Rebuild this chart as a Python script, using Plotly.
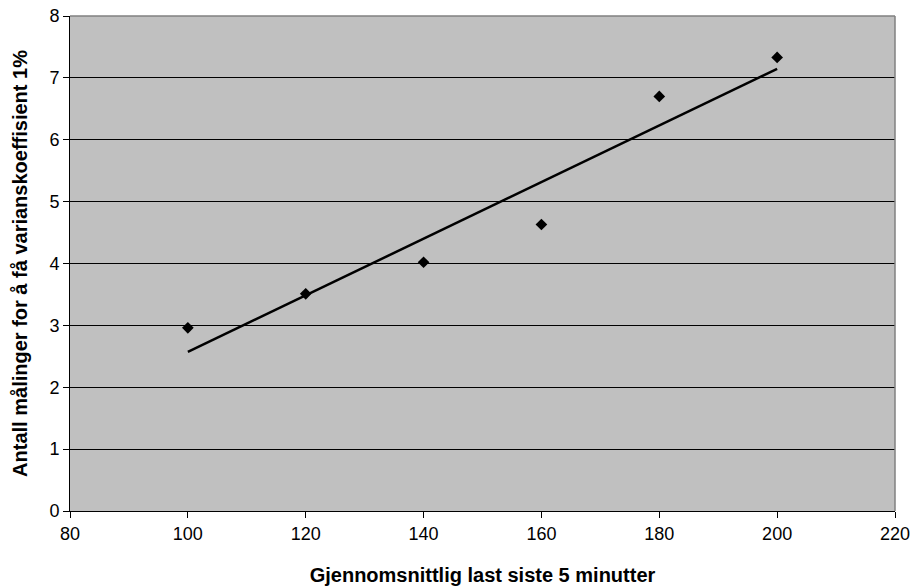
import numpy as np
import plotly.graph_objects as go

last = [100, 120, 140, 160, 180, 200]
antall = [2.96, 3.51, 4.02, 4.63, 6.70, 7.33]
x_ticks = [80, 100, 120, 140, 160, 180, 200, 220]
y_ticks = [0, 1, 2, 3, 4, 5, 6, 7, 8]

slope, intercept = np.polyfit(last, antall, 1)
trend_x = [min(last), max(last)]
trend_y = [slope * v + intercept for v in trend_x]

fig = go.Figure()
fig.add_trace(go.Scatter(x=trend_x, y=trend_y, mode="lines",
                         line=dict(color="black", width=2.5), showlegend=False, hoverinfo="skip"))
fig.add_trace(go.Scatter(x=last, y=antall, mode="markers",
                         marker=dict(symbol="diamond", size=9, color="black"), showlegend=False))

font = "Liberation Sans, Arial, sans-serif"
fig.update_layout(
    width=912, height=586,
    margin=dict(l=70, r=17, t=16, b=75),
    paper_bgcolor="white", plot_bgcolor="#C0C0C0",
    font=dict(family=font, size=18, color="black"),
    xaxis=dict(range=[80, 220], tickvals=x_ticks, showgrid=False, zeroline=False,
               ticks="outside", ticklen=6, tickcolor="black", showline=True, linecolor="black",
               automargin=False, tickfont=dict(size=18),
               title=dict(text="<b>Gjennomsnittlig last siste 5 minutter</b>",
                          font=dict(size=20), standoff=25)),
    yaxis=dict(range=[0, 8], tickvals=y_ticks, showgrid=True, gridcolor="black", gridwidth=1,
               zeroline=False, ticks="outside", ticklen=6, tickcolor="black", showline=True,
               linecolor="black", automargin=False, tickfont=dict(size=18),
               title=dict(text="<b>Antall målinger for å få varianskoeffisient 1%</b>",
                          font=dict(size=20), standoff=16)),
    shapes=[
        dict(type="line", xref="paper", yref="paper", x0=0, x1=1, y0=1, y1=1,
             line=dict(color="#808080", width=1.5)),
        dict(type="line", xref="paper", yref="paper", x0=1, x1=1, y0=0, y1=1,
             line=dict(color="#808080", width=1.5)),
    ],
)
fig.write_html("out.html")
